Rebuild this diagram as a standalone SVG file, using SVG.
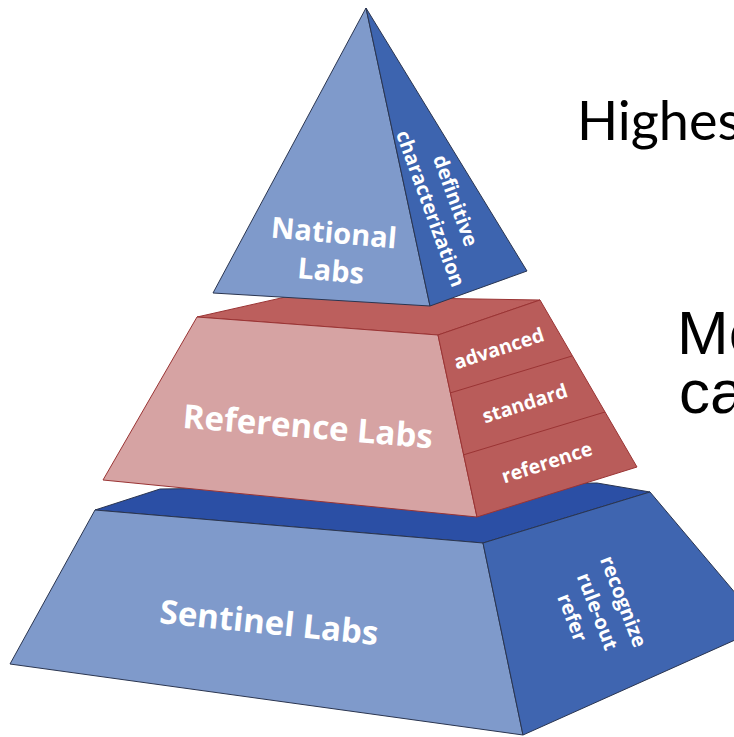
<svg xmlns="http://www.w3.org/2000/svg" width="734" height="737" viewBox="0 0 734 737">
<style>
.edge{stroke:#2a3550;stroke-width:1;stroke-linejoin:round}
.redge{stroke:#9a3434;stroke-width:1;stroke-linejoin:round}
.lbl{font-family:"Open Sans","Liberation Sans",sans-serif;font-weight:700;fill:#ffffff}
.big{font-size:33px}
.mid{font-size:29px}
.sm{font-size:19.5px}
.side{font-size:20px}
.note{fill:#000000}
</style>
<rect width="734" height="737" fill="#ffffff"/>
<g id="sentinel-labs">
<polygon class="edge" fill="#2b4fa5" points="95,510 160,489 597,483 650,492 483,543"/>
<polygon class="edge" fill="#7f9acb" points="95,510 483,543 523,735 10,664"/>
<polygon class="edge" fill="#3f65b0" points="483,543 650,492 764,627 523,735"/>
<text class="lbl big" transform="translate(268,634) rotate(5.8)" text-anchor="middle">Sentinel Labs</text>
<g class="lbl side" text-anchor="middle">
<text transform="translate(617,604) rotate(69)">recognize</text>
<text transform="translate(591,614) rotate(69)">rule-out</text>
<text transform="translate(566,620) rotate(69)">refer</text>
</g>
</g>
<g id="reference-labs">
<polygon class="redge" fill="#bc5f5d" points="197,317 290,296 540,300 438,335"/>
<polygon class="redge" fill="#d6a3a3" points="197,317 438,335 477,517 103,480"/>
<polygon class="redge" fill="#b95c5a" points="438,335 540,300 637,467 477,517"/>
<line class="redge" x1="450" y1="393" x2="572" y2="356"/>
<line class="redge" x1="463" y1="455" x2="605" y2="412"/>
<text class="lbl big" transform="translate(307,438) rotate(4.7)" text-anchor="middle">Reference Labs</text>
<g class="lbl sm" text-anchor="middle">
<text transform="translate(501,355) rotate(-18)">advanced</text>
<text transform="translate(527,410) rotate(-18)">standard</text>
<text transform="translate(549,469) rotate(-18)">reference</text>
</g>
</g>
<g id="national-labs">
<polygon class="edge" fill="#7f9acb" points="366,8 213,293 430,306"/>
<polygon class="edge" fill="#3d64af" points="366,8 430,306 527,271"/>
<text class="lbl mid" transform="translate(333,243) rotate(5)" text-anchor="middle">National</text>
<text class="lbl mid" transform="translate(330,281) rotate(5)" text-anchor="middle">Labs</text>
<g class="lbl side" text-anchor="middle">
<text transform="translate(449,203) rotate(70)">definitive</text>
<text transform="translate(424,211) rotate(70)">characterization</text>
</g>
</g>
<g id="right-notes">
<text class="note" x="577" y="140" font-family="Lato,'Open Sans',sans-serif" font-size="54">Highes</text>
<text class="note" x="677" y="354" font-family="'Liberation Sans',Arial,sans-serif" font-size="62">Me</text>
<text class="note" x="679" y="413" font-family="'Liberation Sans',Arial,sans-serif" font-size="62">ca</text>
</g>
</svg>
